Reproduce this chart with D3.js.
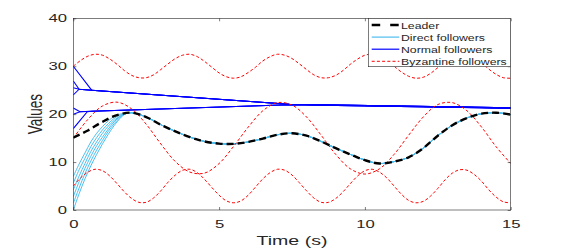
<!DOCTYPE html>
<html>
<head>
<meta charset="utf-8">
<script src="https://cdn.jsdelivr.net/npm/d3@7"></script>
<style>
  body { margin: 0; background: #fff; }
  svg { display: block; }
  text { font-family: "Liberation Sans", Arial, Helvetica, sans-serif; fill: #262626; }
</style>
</head>
<body>
<div id="chart"></div>
<script>
// values
const xTicks = [0, 5, 10, 15];
const yTicks = [0, 10, 20, 30, 40];

// leader, sampled every 0.5 s
const leaderTime = d3.range(0, 15.001, 0.5);
const leaderValues = [15.1, 16.6, 18.4, 19.8, 20.3, 19.4, 17.8, 16.4, 15.2, 14.3, 13.85,
  13.8, 14.2, 14.9, 15.7, 16.0, 15.5, 14.3, 12.9, 11.6, 10.4, 9.7, 10.1, 11.0, 12.9,
  15.5, 17.7, 19.2, 20.1, 20.3, 19.9];

// direct followers before they lock onto the leader (t = 0 .. 1.8)
const directTime = [0, 0.2, 0.4, 0.6, 0.8, 1.0, 1.2, 1.4, 1.6, 1.8];
const direct1 = [0.0, 3.4, 6.5, 9.2, 11.6, 13.8, 15.8, 17.6, 19.1, 20.1];
const direct2 = [1.4, 4.6, 7.6, 10.2, 12.5, 14.5, 16.4, 18.0, 19.3, 20.1];
const direct3 = [2.8, 5.9, 8.7, 11.2, 13.4, 15.2, 16.9, 18.4, 19.5, 20.1];
const direct4 = [4.2, 7.1, 9.7, 12.2, 14.2, 16.0, 17.5, 18.7, 19.6, 20.1];
const direct5 = [5.6, 8.4, 10.8, 13.2, 15.1, 16.7, 18.0, 19.1, 19.8, 20.1];
const direct6 = [7.0, 9.6, 11.9, 14.2, 16.0, 17.4, 18.6, 19.5, 20.0, 20.2];

// normal followers, breakpoints of each trace
const normalTime = [
  [0, 0.63, 0.63, 7.4, 15],
  [0, 0.2, 0.63, 7.4, 15],
  [0, 0.2, 0.63, 7.4, 15],
  [0, 0.2, 0.63, 7.4, 15],
  [0, 0.23, 0.63, 7.4, 15],
  [0, 0.23, 0.63, 7.4, 15],
  [0, 0.48, 0.63, 7.4, 15]
];
const normalValues = [
  [30.0, 25.0, 25.0, 22.05, 21.3],
  [26.9, 25.2, 25.0, 22.05, 21.3],
  [25.5, 25.2, 25.0, 22.05, 21.3],
  [24.0, 25.2, 25.0, 22.05, 21.3],
  [21.3, 20.5, 20.6, 21.95, 21.25],
  [20.0, 20.5, 20.6, 21.95, 21.25],
  [17.0, 20.5, 20.6, 21.95, 21.25]
];

// byzantine followers
const byzFastTime = d3.range(0, 15.001, 0.25);
const byzHigh = [30.0, 31.2, 32.1, 32.5, 32.3, 31.5, 30.4, 29.1, 28.1, 27.6, 27.6, 28.2,
  29.3, 30.5, 31.6, 32.3, 32.5, 32.0, 31.0, 29.8, 28.6, 27.8, 27.5, 27.8, 28.7, 29.8,
  31.1, 32.0, 32.5, 32.3, 31.6, 30.5, 29.3, 28.2, 27.6, 27.6, 28.1, 29.1, 30.4, 31.5,
  32.3, 32.5, 32.1, 31.2, 30.0, 28.8, 27.9, 27.5, 27.7, 28.5, 29.7, 30.9, 31.9, 32.5,
  32.4, 31.7, 30.7, 29.4, 28.3, 27.6, 27.5];
const byzLow = [5.0, 6.7, 7.9, 8.5, 8.2, 7.1, 5.5, 3.8, 2.4, 1.6, 1.6, 2.5, 4.0, 5.8,
  7.3, 8.3, 8.5, 7.8, 6.4, 4.7, 3.1, 1.9, 1.5, 1.9, 3.1, 4.8, 6.5, 7.8, 8.5, 8.3, 7.3,
  5.7, 4.0, 2.5, 1.6, 1.6, 2.4, 3.8, 5.5, 7.1, 8.2, 8.5, 7.9, 6.7, 5.0, 3.3, 2.0, 1.5,
  1.8, 2.9, 4.5, 6.3, 7.7, 8.4, 8.3, 7.4, 6.0, 4.2, 2.7, 1.7, 1.5];
const byzMidTime = d3.range(0, 15.001, 0.5);
const byzMid = [15.0, 18.9, 21.7, 22.5, 21.1, 17.9, 13.8, 10.1, 7.9, 7.7, 9.7, 13.3,
  17.3, 20.7, 22.4, 21.9, 19.4, 15.6, 11.6, 8.6, 7.5, 8.6, 11.6, 15.6, 19.4, 22.0,
  22.4, 20.7, 17.3, 13.2, 9.7];

const legendLabels = ["Leader", "Direct followers", "Normal followers", "Byzantine followers"];

var margin = {top: 18.3, left: 73.3},
    width = 437.4,
    height = 191.7;

var svg = d3.select("#chart").append("svg")
  .attr("width", 565)
  .attr("height", 249);

var g = svg.append("g")
  .attr("transform", "translate(" + margin.left + "," + margin.top + ")");

var x = d3.scaleLinear().domain([0, 15]).range([0, width]);
var y = d3.scaleLinear().domain([0, 40]).range([height, 0]);

var zip = (ts, vs) => ts.map((t, i) => [t, vs[i]]);

var smooth = d3.line()
  .x(d => x(d[0]))
  .y(d => y(d[1]))
  .curve(d3.curveCatmullRom.alpha(0.5));

var straight = d3.line()
  .x(d => x(d[0]))
  .y(d => y(d[1]));

g.append("clipPath").attr("id", "clip")
  .append("rect").attr("width", width).attr("height", height);

var plot = g.append("g").attr("clip-path", "url(#clip)");

// normal followers
normalTime.forEach((ts, i) => {
  plot.append("path")
    .attr("d", straight(zip(ts, normalValues[i])))
    .attr("fill", "none")
    .attr("stroke", "#0000ff")
    .attr("stroke-width", 1.1);
});

// direct followers: own start, then the leader's path
var tailTime = leaderTime.slice(4);
var tailValues = leaderValues.slice(4);
[direct1, direct2, direct3, direct4, direct5, direct6].forEach(vals => {
  plot.append("path")
    .attr("d", smooth(zip(directTime.concat(tailTime), vals.concat(tailValues))))
    .attr("fill", "none")
    .attr("stroke", "#4dbeee")
    .attr("stroke-width", 1);
});

// byzantine followers
[[byzFastTime, byzHigh], [byzFastTime, byzLow], [byzMidTime, byzMid]].forEach(s => {
  plot.append("path")
    .attr("d", smooth(zip(s[0], s[1])))
    .attr("fill", "none")
    .attr("stroke", "#ff0000")
    .attr("stroke-width", 1)
    .attr("stroke-dasharray", "3,2.2");
});

// leader
plot.append("path")
  .attr("d", smooth(zip(leaderTime, leaderValues)))
  .attr("fill", "none")
  .attr("stroke", "#000")
  .attr("stroke-width", 2.4)
  .attr("stroke-dasharray", "7,4");

// axes (ticks inside, matlab style)
var sx = 1.45;
var xAxis = d3.axisBottom(x).tickValues(xTicks).tickSizeInner(-3).tickSizeOuter(0).tickPadding(9.5);
var yAxis = d3.axisLeft(y).tickValues(yTicks).tickSizeInner(-3).tickSizeOuter(0).tickPadding(4.35);

var gx = g.append("g")
  .attr("transform", "translate(0," + height + ")")
  .call(xAxis);
var gy = g.append("g").call(yAxis);

g.append("g").call(d3.axisTop(x).tickValues(xTicks).tickSizeInner(-3).tickSizeOuter(0).tickFormat(""));
g.append("g").attr("transform", "translate(" + width + ",0)")
  .call(d3.axisRight(y).tickValues(yTicks).tickSizeInner(-3).tickSizeOuter(0).tickFormat(""));

g.selectAll(".domain").remove();
g.selectAll(".tick line").attr("stroke", "#262626").attr("stroke-width", 0.6);
[gx, gy].forEach(a => {
  a.attr("font-family", null).attr("font-size", null);
  a.selectAll("text")
    .style("font-size", "11.5px")
    .attr("fill", "#262626")
    .attr("transform", "scale(" + sx + ",1)");
});

g.append("rect")
  .attr("width", width)
  .attr("height", height)
  .attr("fill", "none")
  .attr("stroke", "#262626")
  .attr("stroke-width", 0.6);

svg.append("text")
  .attr("transform", "translate(292,245) scale(" + sx + ",1)")
  .attr("text-anchor", "middle")
  .style("font-size", "13.5px")
  .text("Time (s)");

svg.append("text")
  .attr("transform", "translate(41.7,114.2) scale(" + sx + ",1) rotate(-90)")
  .attr("text-anchor", "middle")
  .style("font-size", "13.5px")
  .text("Values");

// legend
var legend = svg.append("g");
legend.append("rect")
  .attr("x", 368.3).attr("y", 18.3)
  .attr("width", 142.4).attr("height", 48.4)
  .attr("fill", "#fff")
  .attr("stroke", "#262626")
  .attr("stroke-width", 0.6);

var legendStyle = [
  {stroke: "#000", width: 2.4, dash: "8.5,10"},
  {stroke: "#4dbeee", width: 1.2, dash: null},
  {stroke: "#0000ff", width: 1.2, dash: null},
  {stroke: "#ff0000", width: 1, dash: "3,2.2"}
];

legendLabels.forEach((label, i) => {
  var base = 28.6 + i * 12.1;
  legend.append("line")
    .attr("x1", 371.7).attr("x2", 399.3)
    .attr("y1", base - 3.6).attr("y2", base - 3.6)
    .attr("stroke", legendStyle[i].stroke)
    .attr("stroke-width", legendStyle[i].width)
    .attr("stroke-dasharray", legendStyle[i].dash);
  legend.append("text")
    .attr("transform", "translate(401," + base + ") scale(1.28,1)")
    .style("font-size", "9.6px")
    .text(label);
});
</script>
</body>
</html>
